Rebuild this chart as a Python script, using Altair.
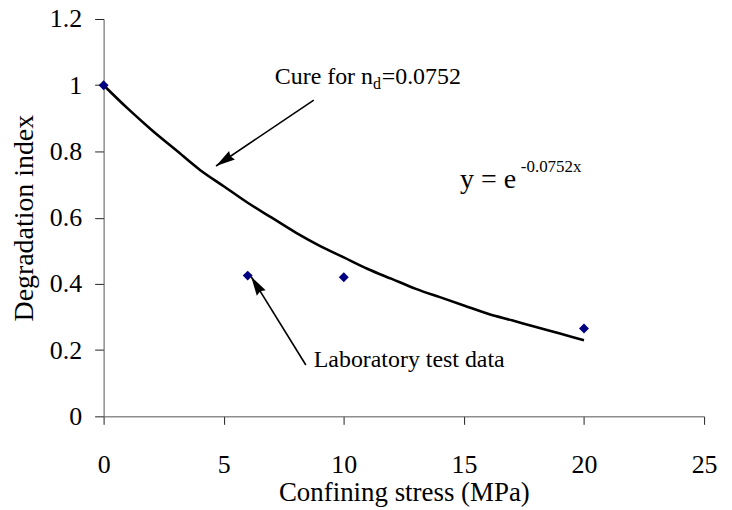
import math
import altair as alt
import pandas as pd

# ---- data ----
curve_x = [0, 1, 2, 3, 4, 5, 6, 7, 8, 9, 10, 11, 12, 13, 14, 15, 16, 17, 18, 19, 20]
curve_y = [1.0, 0.93, 0.865, 0.805, 0.745, 0.695, 0.645, 0.60, 0.555, 0.515, 0.48,
           0.445, 0.415, 0.385, 0.36, 0.335, 0.31, 0.29, 0.27, 0.25, 0.23]

test_x = [0, 6, 10, 20]
test_y = [1.0, 0.425, 0.42, 0.265]

# annotation texts (data coordinates of their baseline start)
label_text = ["Cure for n", "d", "=0.0752", "y = e", "-0.0752x", "Laboratory test data"]
label_x = [7.13, 11.22, 11.58, 14.84, 17.37, 8.75]
label_y = [1.005, 0.99, 1.005, 0.690, 0.738, 0.149]
label_size = [24, 16, 24, 28, 17, 24]

# arrows: start -> tip (data coordinates)
arrow_x0 = [8.75, 8.42]
arrow_y0 = [0.955, 0.155]
arrow_x1 = [4.68, 6.14]
arrow_y1 = [0.756, 0.422]

W, H = 603, 399
X_MAX, Y_MAX = 25, 1.2
sx, sy = W / X_MAX, H / Y_MAX

angles = []
for a, b, c, d in zip(arrow_x0, arrow_y0, arrow_x1, arrow_y1):
    dx = (c - a) * sx
    dy = -(d - b) * sy
    angles.append(math.degrees(math.atan2(dx, -dy)) % 360)

curve_df = pd.DataFrame({"x": curve_x, "y": curve_y})
test_df = pd.DataFrame({"x": test_x, "y": test_y})
label_df = pd.DataFrame({"x": label_x, "y": label_y, "t": label_text, "s": label_size})
arrow_df = pd.DataFrame({"x": arrow_x0, "y": arrow_y0, "x2": arrow_x1, "y2": arrow_y1,
                         "ang": angles})

FONT = "Liberation Serif"

xscale = alt.Scale(domain=[0, X_MAX], nice=False, zero=False)
yscale = alt.Scale(domain=[0, Y_MAX], nice=False, zero=False)

x_axis = alt.Axis(title="Confining stress (MPa)", values=[0, 5, 10, 15, 20, 25],
                  format="~g", grid=False, tickSize=8, labelPadding=27, labelFontSize=26,
                  labelFont=FONT, labelColor="black", titleFont=FONT, titleFontSize=27,
                  titleFontWeight="normal", titleColor="black",
                  titleBaseline="alphabetic", titleY=85,
                  domainColor="#555555", tickColor="#222222", labelFlush=False)
y_axis = alt.Axis(title="Degradation index", values=[0, 0.2, 0.4, 0.6, 0.8, 1.0, 1.2],
                  format="~g", grid=False, tickSize=9, labelPadding=13, labelFontSize=26,
                  labelAlign="right",
                  labelFont=FONT, labelColor="black", titleFont=FONT, titleFontSize=28,
                  titleFontWeight="normal", titleColor="black",
                  titleBaseline="alphabetic", titleX=-71,
                  domainColor="#555555", tickColor="#222222", labelFlush=False)

curve = alt.Chart(curve_df).mark_line(color="black", strokeWidth=2.6,
                                      interpolate="monotone").encode(
    x=alt.X("x:Q", scale=xscale, axis=x_axis),
    y=alt.Y("y:Q", scale=yscale, axis=y_axis),
)

points = alt.Chart(test_df).mark_point(shape="diamond", filled=True, color="#000080",
                                       size=100, opacity=1).encode(
    x=alt.X("x:Q", scale=xscale),
    y=alt.Y("y:Q", scale=yscale),
)

arrow_lines = alt.Chart(arrow_df).mark_rule(color="black", strokeWidth=1.6).encode(
    x=alt.X("x:Q", scale=xscale),
    y=alt.Y("y:Q", scale=yscale),
    x2="x2:Q",
    y2="y2:Q",
)

arrow_heads = alt.Chart(arrow_df).mark_point(
    shape="M0,0L-0.27,1L0,0.9L0.27,1Z", filled=True, color="black", size=1500, opacity=1
).encode(
    x=alt.X("x2:Q", scale=xscale),
    y=alt.Y("y2:Q", scale=yscale),
    angle=alt.Angle("ang:Q", scale=None),
)

labels = alt.Chart(label_df).mark_text(align="left", baseline="alphabetic", font=FONT,
                                       color="black").encode(
    x=alt.X("x:Q", scale=xscale),
    y=alt.Y("y:Q", scale=yscale),
    text="t:N",
    size=alt.Size("s:Q", scale=None),
)

chart = alt.layer(curve, arrow_lines, arrow_heads, points, labels).properties(
    width=W, height=H,
    padding={"left": 96, "top": 10, "right": 20, "bottom": 92},
    autosize=alt.AutoSizeParams(type="none"),
).configure_view(strokeWidth=0)

chart.save("out.html", embed_options={"renderer": "svg", "actions": False})
